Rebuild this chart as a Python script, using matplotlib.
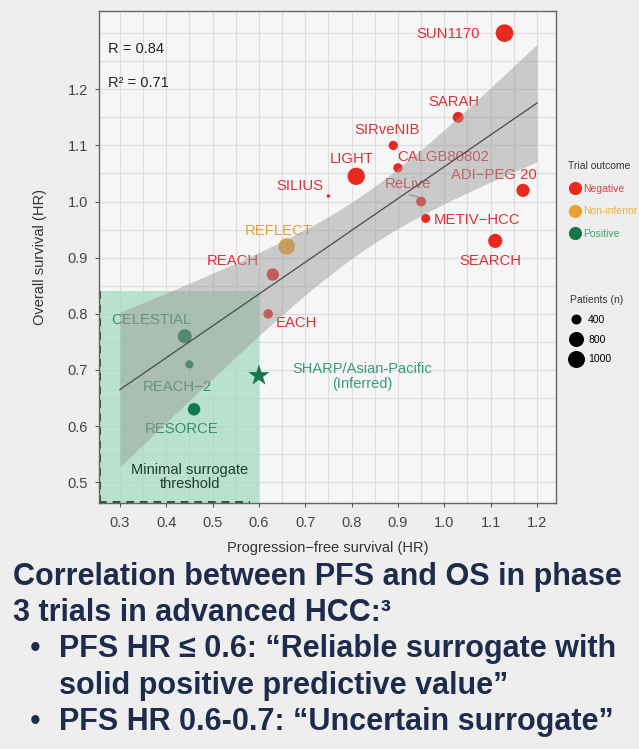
import matplotlib
matplotlib.use("Agg")
import matplotlib.pyplot as plt
import numpy as np
from matplotlib.lines import Line2D
from matplotlib.patches import Rectangle

plt.rcParams['font.family'] = ['Liberation Sans', 'DejaVu Sans']

# ---------------- data ----------------
trials = ["SUN1170", "SARAH", "SIRveNIB", "CALGB80802", "LIGHT", "SILIUS", "ReLive",
          "ADI\u2212PEG 20", "METIV\u2212HCC", "SEARCH", "REFLECT", "REACH", "EACH",
          "CELESTIAL", "REACH\u22122", "RESORCE"]
pfs_hr = [1.13, 1.03, 0.89, 0.90, 0.81, 0.75, 0.95, 1.17, 0.96, 1.11, 0.66, 0.63, 0.62,
          0.44, 0.45, 0.46]
os_hr = [1.30, 1.15, 1.10, 1.06, 1.045, 1.01, 1.00, 1.02, 0.97, 0.93, 0.92, 0.87, 0.80,
         0.76, 0.71, 0.63]
patients = [1074, 459, 360, 356, 1035, 120, 397, 635, 340, 720, 954, 565, 371, 707, 292, 573]
outcome = ["Negative"] * 10 + ["Non-inferior"] + ["Negative"] * 2 + ["Positive"] * 3

# label positions (data coords)
label_x = [1.008, 1.02, 0.877, 0.998, 0.80, 0.689, 0.922, 1.108, 0.978, 1.099, 0.643, 0.544,
           0.682, 0.369, 0.423, 0.434]
label_y = [1.298, 1.177, 1.127, 1.079, 1.075, 1.027, 1.032, 1.048, 0.968, 0.895, 0.948, 0.895,
           0.784, 0.789, 0.670, 0.595]
label_ha = ["center"] * 8 + ["left"] + ["center"] * 7

sharp_pfs, sharp_os = 0.60, 0.69

fit_intercept, fit_slope = 0.495, 0.567
band_center_x, band_a, band_b = 0.824, 0.0025, 0.06
fit_range = [0.30, 1.20]

threshold_pfs = 0.60
threshold_os = 0.84

legend_sizes = [400, 800, 1000]
outcome_names = ["Negative", "Non-inferior", "Positive"]

# ---------------- style ----------------
marker_col = {"Negative": "#e8291f", "Non-inferior": "#eba030", "Positive": "#15784a"}
text_col = {"Negative": "#d9333a", "Non-inferior": "#e2a23a", "Positive": "#3a8c6c"}
legend_text_col = {"Negative": "#e0404a", "Non-inferior": "#f0b040", "Positive": "#40a070"}


def size_pt2(n):
    return 0.163 * (np.asarray(n, dtype=float) - 82)


fig = plt.figure(figsize=(6.39, 7.49), dpi=100, facecolor="#eeeeee")
ax = fig.add_axes([0.155, 0.328, 0.715, 0.657])
ax.set_facecolor("#f6f6f6")

ax.set_xlim(0.255, 1.241)
ax.set_ylim(0.4625, 1.339)
ax.set_xticks(np.arange(0.3, 1.21, 0.1))
ax.set_yticks(np.arange(0.5, 1.21, 0.1))
ax.set_xticks(np.arange(0.3, 1.24, 0.05), minor=True)
ax.set_yticks(np.arange(0.5, 1.34, 0.05), minor=True)
ax.set_xticklabels([f"{v:.1f}" for v in np.arange(0.3, 1.21, 0.1)])
ax.set_yticklabels([f"{v:.1f}" for v in np.arange(0.5, 1.21, 0.1)])
ax.grid(True, which="both", color="#dedede", lw=0.9, zorder=0)
ax.set_axisbelow(True)
ax.tick_params(which="major", length=3, color="#555555", labelsize=10.5, labelcolor="#444444")
ax.tick_params(axis="x", which="major", pad=6)
ax.tick_params(axis="y", which="major", pad=5)
ax.tick_params(which="minor", length=0)
for sp in ax.spines.values():
    sp.set_color("#666666")
    sp.set_linewidth(1.0)

ax.set_xlabel("Progression\u2212free survival (HR)", fontsize=10.5, color="#333333", labelpad=8)
ax.set_ylabel("Overall survival (HR)", fontsize=10.5, color="#333333", labelpad=15)

# threshold rectangle
x0, _ = ax.get_xlim()
y0, _ = ax.get_ylim()
ax.add_patch(Rectangle((x0, y0), threshold_pfs - x0, threshold_os - y0,
                       facecolor="#a4dcc0", alpha=0.75, edgecolor="none", zorder=1))
ax.plot([x0 + 0.003, x0 + 0.003], [y0, threshold_os], ls=(0, (4, 3)), color="#2f4f44", lw=1.4, zorder=1.5)
ax.plot([x0, threshold_pfs - 0.02], [y0 + 0.003, y0 + 0.003], ls=(0, (4, 3)), color="#2f4f44", lw=1.4, zorder=1.5)
ax.text(0.451, 0.509, "Minimal surrogate\nthreshold", ha="center", va="center",
        fontsize=10.5, color="#1f3a32", linespacing=0.95, zorder=2)

# points
cols = [marker_col[o] for o in outcome]
ax.scatter(pfs_hr, os_hr, s=size_pt2(patients), c=cols, edgecolors="none", zorder=2)
for name, lx, ly, ha, o in zip(trials, label_x, label_y, label_ha, outcome):
    ax.text(lx, ly, name, ha=ha, va="center", fontsize=10.7, color=text_col[o], zorder=2)

# ReLive leader line
relive_i = trials.index("ReLive")
ax.plot([pfs_hr[relive_i] - 0.025, pfs_hr[relive_i] - 0.005],
        [label_y[relive_i] - 0.02, os_hr[relive_i] + 0.008], color="#888888", lw=0.8, zorder=2)

# SHARP star
ax.scatter([sharp_pfs], [sharp_os], marker="*", s=260, c="#15784a", edgecolors="none", zorder=5)
ax.text(0.823, 0.689, "SHARP/Asian-Pacific\n(Inferred)", ha="center", va="center",
        fontsize=10.5, color="#3a9c74", linespacing=1.1, zorder=5)

# regression + band (drawn over points)
xs = np.linspace(fit_range[0], fit_range[1], 200)
ys = fit_intercept + fit_slope * xs
half = np.sqrt(band_a + band_b * (xs - band_center_x) ** 2)
ax.fill_between(xs, ys - half, ys + half, color="#9a9a9a", alpha=0.48, lw=0, zorder=3)
ax.plot(xs, ys, color="#4a4a4a", lw=0.9, zorder=4)

ax.text(0.274, 1.271, "R = 0.84", fontsize=10.5, color="#222222", va="center", zorder=5)
ax.text(0.274, 1.212, "R\u00b2 = 0.71", fontsize=10.5, color="#222222", va="center", zorder=5)

# legends
lfs = 7.5
h1 = [Line2D([], [], ls="none", marker="o", markersize=9.5, markerfacecolor=marker_col[o],
             markeredgecolor="none") for o in outcome_names]
leg1 = fig.legend(h1, outcome_names, loc="upper left", bbox_to_anchor=(0.875, 0.797),
                  frameon=False, title="Trial outcome", fontsize=lfs, title_fontsize=lfs,
                  labelspacing=1.2, handletextpad=0.2, handlelength=1.2, alignment="left")
for t, o in zip(leg1.get_texts(), outcome_names):
    t.set_color(legend_text_col[o])

h2 = [Line2D([], [], ls="none", marker="o", markersize=np.sqrt(size_pt2(n)),
             markerfacecolor="black", markeredgecolor="none") for n in legend_sizes]
leg2 = fig.legend(h2, [str(n) for n in legend_sizes], loc="upper left",
                  bbox_to_anchor=(0.877, 0.619), frameon=False, title="Patients (n)",
                  fontsize=lfs, title_fontsize=lfs, labelspacing=0.95, handletextpad=0.55,
                  handlelength=1.2, alignment="left")
leg2.get_title().set_color("#333333")
leg1.get_title().set_color("#333333")

# bottom text
navy = "#1d2c4c"
fs = 22
baselines = [585, 621, 657, 694, 730]
fig.text(0.021, 1 - baselines[0] / 749, "Correlation between PFS and OS in phase", fontsize=fs,
         fontweight="bold", color=navy, va="baseline")
fig.text(0.021, 1 - baselines[1] / 749, "3 trials in advanced HCC:\u00b3", fontsize=fs,
         fontweight="bold", color=navy, va="baseline")
fig.text(0.046, 1 - baselines[2] / 749, "\u2022", fontsize=fs, color=navy, va="baseline")
fig.text(0.093, 1 - baselines[2] / 749, "PFS HR \u2264 0.6: \u201cReliable surrogate with", fontsize=fs,
         fontweight="bold", color=navy, va="baseline")
fig.text(0.093, 1 - baselines[3] / 749, "solid positive predictive value\u201d", fontsize=fs,
         fontweight="bold", color=navy, va="baseline")
fig.text(0.046, 1 - baselines[4] / 749, "\u2022", fontsize=fs, color=navy, va="baseline")
fig.text(0.093, 1 - baselines[4] / 749, "PFS HR 0.6-0.7: \u201cUncertain surrogate\u201d", fontsize=fs,
         fontweight="bold", color=navy, va="baseline")

fig.savefig("out.png", dpi=100, facecolor=fig.get_facecolor())
